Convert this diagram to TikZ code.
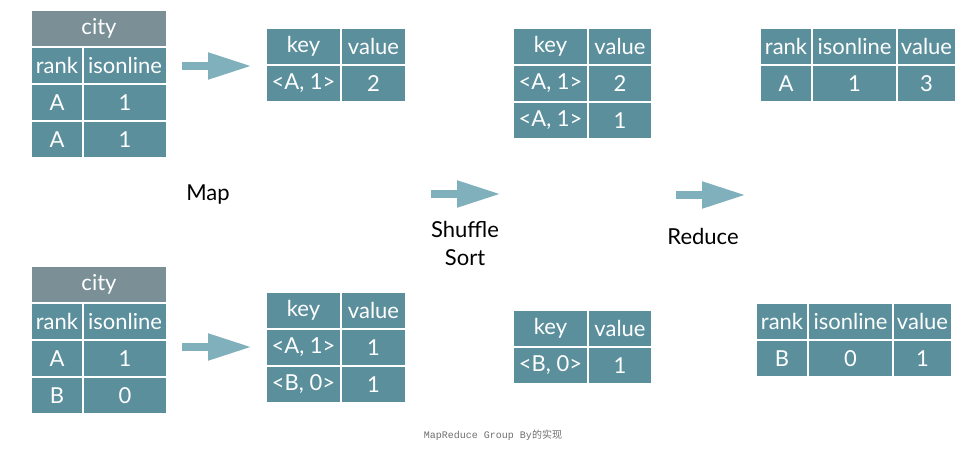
\documentclass[tikz,border=0pt]{standalone}
\usepackage{fontspec}
\setmainfont{Lato}
\newfontfamily\capmono{Liberation Mono}
\newfontfamily\capcjk{Noto Sans CJK SC}
\usetikzlibrary{arrows.meta}
\definecolor{cellc}{HTML}{5B8F9C}
\definecolor{headc}{HTML}{7A9096}
\definecolor{arrowc}{HTML}{7FB0BC}
\definecolor{capc}{HTML}{6E6E6E}

\begin{document}
\begin{tikzpicture}[x=1pt, y=-1pt,
    cell/.style={rectangle, draw=white, line width=1.5pt, fill=cellc, text=white, inner sep=0pt, minimum height=37pt, minimum width=#1, font=\fontsize{22}{26}\selectfont},
    head cell/.style={cell=#1, fill=headc},
    big arrow/.style={draw=arrowc, line width=8pt, -{Triangle[length=44pt, width=25pt]}},
    step label/.style={font=\fontsize{22}{28}\selectfont}]

                \useasboundingbox (0,0) rectangle (972,452);

                % input tables
                \node[head cell=136pt] at (99,28.5) (city1) {city};
                \node[cell=52pt] at (57,65.5) (rank1) {rank};
                \node[cell=84pt] at (125,65.5) (on1) {isonline};
                \node[cell=52pt] at (57,102.5) (ra1) {A};
                \node[cell=84pt] at (125,102.5) (oa1) {1};
                \node[cell=52pt] at (57,139.5) (rb1) {A};
                \node[cell=84pt] at (125,139.5) (ob1) {1};

                \node[head cell=136pt] at (99,284.5) (city2) {city};
                \node[cell=52pt] at (57,321.5) (rank2) {rank};
                \node[cell=84pt] at (125,321.5) (on2) {isonline};
                \node[cell=52pt] at (57,358.5) (ra2) {A};
                \node[cell=84pt] at (125,358.5) (oa2) {1};
                \node[cell=52pt] at (57,395.5) (rb2) {B};
                \node[cell=84pt] at (125,395.5) (ob2) {0};

                % map output
                \node[cell=75pt] at (303.5,46.5) (mk1) {key};
                \node[cell=65pt] at (373.5,46.5) (mv1) {value};
                \node[cell=75pt] at (303.5,83.5) (mka1) {<A, 1>};
                \node[cell=65pt] at (373.5,83.5) (mva1) {2};

                \node[cell=75pt] at (303.5,310.5) (mk2) {key};
                \node[cell=65pt] at (373.5,310.5) (mv2) {value};
                \node[cell=75pt] at (303.5,347.5) (mka2) {<A, 1>};
                \node[cell=65pt] at (373.5,347.5) (mva2) {1};
                \node[cell=75pt] at (303.5,384.5) (mkb2) {<B, 0>};
                \node[cell=65pt] at (373.5,384.5) (mvb2) {1};

                % shuffle output
                \node[cell=75pt] at (550.5,46.5) (sk1) {key};
                \node[cell=64pt] at (620,46.5) (sv1) {value};
                \node[cell=75pt] at (550.5,83.5) (ska1) {<A, 1>};
                \node[cell=64pt] at (620,83.5) (sva1) {2};
                \node[cell=75pt] at (550.5,120.5) (skb1) {<A, 1>};
                \node[cell=64pt] at (620,120.5) (svb1) {1};

                \node[cell=75pt] at (550.5,328.5) (sk2) {key};
                \node[cell=64pt] at (620,328.5) (sv2) {value};
                \node[cell=75pt] at (550.5,365.5) (ska2) {<B, 0>};
                \node[cell=64pt] at (620,365.5) (sva2) {1};

                % reduce output
                \node[cell=52pt] at (786,46.5) (rr1) {rank};
                \node[cell=85pt] at (854.5,46.5) (ro1) {isonline};
                \node[cell=59pt] at (926.5,46.5) (rv1) {value};
                \node[cell=52pt] at (786,83.5) (rra1) {A};
                \node[cell=85pt] at (854.5,83.5) (roa1) {1};
                \node[cell=59pt] at (926.5,83.5) (rva1) {3};

                \node[cell=52pt] at (782,321.5) (rr2) {rank};
                \node[cell=85pt] at (850.5,321.5) (ro2) {isonline};
                \node[cell=59pt] at (922.5,321.5) (rv2) {value};
                \node[cell=52pt] at (782,358.5) (rrb2) {B};
                \node[cell=85pt] at (850.5,358.5) (rob2) {0};
                \node[cell=59pt] at (922.5,358.5) (rvb2) {1};

                % step labels
                \node[step label] at (208,195) (map) {Map};
                \node[step label, align=center] at (465,243) (shuf) {Shuffle\\Sort};
                \node[step label] at (703,236) (red) {Reduce};

                % arrows
                \coordinate (a1s) at (182,66);
                \coordinate (a1e) at (252,66);
                \coordinate (a2s) at (182,347);
                \coordinate (a2e) at (252,347);
                \coordinate (a3s) at (431,194);
                \coordinate (a3e) at (501,194);
                \coordinate (a4s) at (676,195);
                \coordinate (a4e) at (746,195);
                \draw[big arrow] (a1s) -- (a1e);
                \draw[big arrow] (a2s) -- (a2e);
                \draw[big arrow] (a3s) -- (a3e);
                \draw[big arrow] (a4s) -- (a4e);

                \node[text=capc, font=\fontsize{10}{12}\selectfont] at (493,435) (cap) {\capmono MapReduce Group By\capcjk 的实现};

\end{tikzpicture}
\end{document}
